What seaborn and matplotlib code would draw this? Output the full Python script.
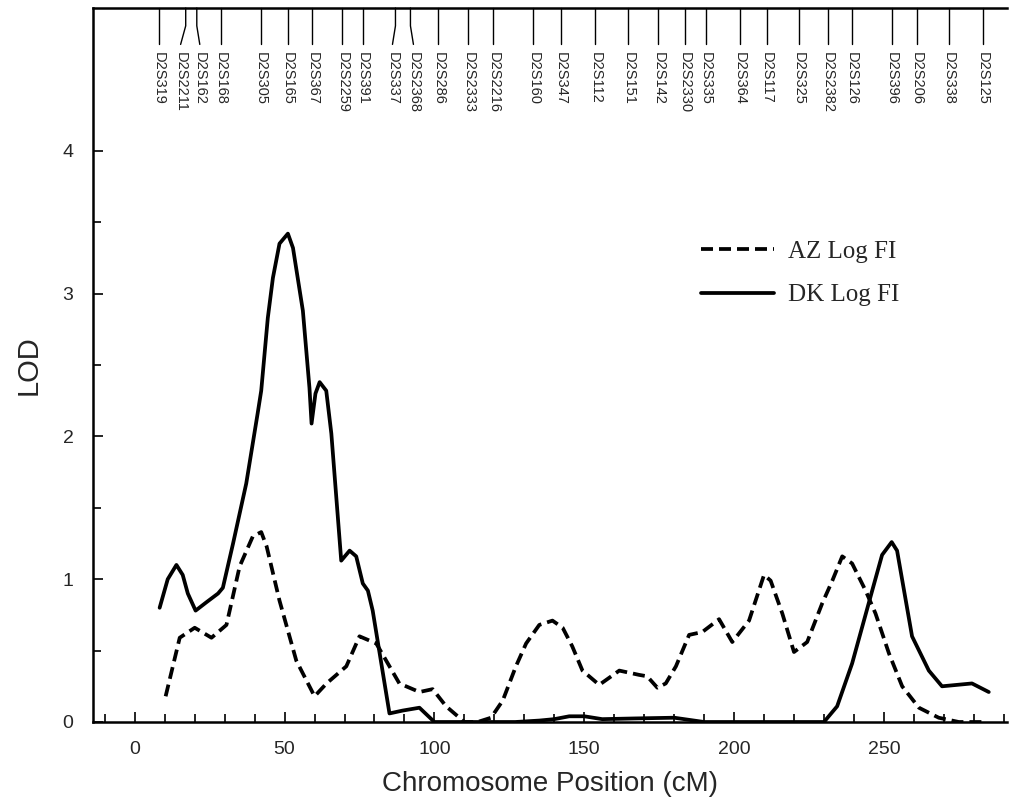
import numpy as np
import pandas as pd
import matplotlib
matplotlib.use("Agg")
import matplotlib.pyplot as plt
import matplotlib.transforms as mtransforms
import seaborn as sns

# LOD curves (position in cM, LOD)
az_pos = [10.3, 15, 20, 25.6, 30.6, 35, 39.4, 42.2, 44, 48.3, 53.9, 60, 64, 70.6, 75,
          80.6, 88.3, 95, 99.4, 103.9, 110, 114.4, 118.9, 122.8, 127.2, 130.6, 135,
          139.4, 142.8, 146, 149.4, 155, 161.7, 168.3, 171, 174.4, 177.2, 180.6, 185,
          189.4, 195, 199.4, 205, 210, 212.2, 216.1, 220, 224.4, 229.4, 232.8, 236.1,
          239.4, 243.9, 247.2, 251.7, 256.1, 261.7, 268.3, 275, 282.8]
az_lod = [0.18, 0.59, 0.66, 0.59, 0.68, 1.09, 1.30, 1.33, 1.23, 0.85, 0.43, 0.18, 0.27,
          0.39, 0.60, 0.55, 0.27, 0.21, 0.23, 0.11, 0.0, 0.0, 0.03, 0.15, 0.39, 0.55,
          0.68, 0.71, 0.66, 0.53, 0.36, 0.26, 0.36, 0.33, 0.32, 0.24, 0.27, 0.39, 0.61,
          0.63, 0.72, 0.56, 0.71, 1.03, 0.99, 0.76, 0.49, 0.56, 0.83, 0.99, 1.16, 1.11,
          0.92, 0.76, 0.48, 0.25, 0.10, 0.03, 0.0, 0.0]

dk_pos = [8.3, 11, 13.9, 16, 17.7, 20.3, 24, 27.8, 29.4, 32.8, 37.2, 41, 42.2, 44.4,
          46.1, 48.3, 51.1, 52.8, 56.1, 58.3, 59.0, 60.3, 61.7, 63.9, 65.6, 68.9, 71.7,
          73.9, 76.1, 77.8, 79.4, 85, 89.4, 95, 100, 127, 135, 140, 145, 150, 156, 167,
          180, 190, 230, 234.4, 239.4, 246.1, 249.4, 252.6, 254.4, 259.4, 265, 269.4,
          279.4, 285]
dk_lod = [0.80, 1.00, 1.10, 1.03, 0.90, 0.78, 0.84, 0.90, 0.94, 1.25, 1.67, 2.16, 2.32,
          2.83, 3.11, 3.35, 3.42, 3.32, 2.88, 2.34, 2.09, 2.30, 2.38, 2.32, 2.02, 1.13,
          1.20, 1.16, 0.97, 0.92, 0.78, 0.06, 0.08, 0.10, 0.0, 0.0, 0.01, 0.02, 0.04,
          0.04, 0.02, 0.025, 0.03, 0.0, 0.0, 0.11, 0.41, 0.92, 1.17, 1.26, 1.20, 0.60,
          0.36, 0.25, 0.27, 0.21]

# marker map along the top
markers = ["D2S319", "D2S2211", "D2S162", "D2S168", "D2S305", "D2S165", "D2S367",
           "D2S2259", "D2S391", "D2S337", "D2S2368", "D2S286", "D2S2333", "D2S2216",
           "D2S160", "D2S347", "D2S112", "D2S151", "D2S142", "D2S2330", "D2S335",
           "D2S364", "D2S117", "D2S325", "D2S2382", "D2S126", "D2S396", "D2S206",
           "D2S338", "D2S125"]
marker_cm = [8.0, 17.0, 20.7, 28.7, 42.0, 51.0, 59.3, 69.3, 76.0, 87.0, 92.0, 101.3,
             111.3, 119.7, 133.0, 142.3, 153.7, 164.7, 174.7, 183.7, 190.7, 202.0,
             211.0, 221.7, 231.3, 239.3, 252.7, 261.0, 271.7, 283.0]
label_nudge = {"D2S2211": -1.7, "D2S162": 1.0, "D2S337": -1.0, "D2S2368": 1.0}

sns.set_theme(style="ticks")
plt.rcParams["font.family"] = ["Liberation Sans", "DejaVu Sans"]

fig = plt.figure(figsize=(10.2, 8), dpi=100)
ax = fig.add_axes([0.091, 0.0975, 0.896, 0.8925])

sns.lineplot(x=az_pos, y=az_lod, ax=ax, color="black", linewidth=2.7,
             linestyle=(0, (3.2, 1.6)), label="AZ Log FI", sort=False)
sns.lineplot(x=dk_pos, y=dk_lod, ax=ax, color="black", linewidth=2.7,
             label="DK Log FI", sort=False)

ax.set_xlim(-14, 291)
ax.set_ylim(0, 5)
ax.set_xticks([0, 50, 100, 150, 200, 250])
ax.set_xticks(np.arange(-10, 291, 10), minor=True)
ax.set_yticks([0, 1, 2, 3, 4])
ax.set_yticks([0.5, 1.5, 2.5, 3.5], minor=True)
ax.tick_params(axis="both", which="both", direction="in", color="black", width=1.2)
ax.tick_params(axis="both", which="major", length=7, labelsize=14, pad=14)
ax.tick_params(axis="both", which="minor", length=6)
ax.tick_params(axis="x", which="both", top=False)
ax.tick_params(axis="y", which="both", right=False)

for side in ["left", "bottom", "top"]:
    ax.spines[side].set_color("black")
    ax.spines[side].set_linewidth(1.8)
ax.spines["right"].set_visible(False)

ax.set_xlabel("Chromosome Position (cM)", fontsize=20, labelpad=9)
ax.set_ylabel("LOD", fontsize=21, labelpad=14)

# marker ticks hanging from the top border
trans = mtransforms.blended_transform_factory(ax.transData, ax.transAxes)
for name, pos in zip(markers, marker_cm):
    lab = pos + label_nudge.get(name, 0.0)
    ax.plot([pos, pos, lab], [1.0, 0.975, 0.949], color="black", linewidth=1.0,
            transform=trans, clip_on=False)
    ax.text(lab, 0.939, name, rotation=-90, ha="center", va="top", fontsize=10.5,
            transform=trans)

leg = ax.legend(loc="upper left", bbox_to_anchor=(0.666, 0.675), frameon=False,
                borderpad=0, borderaxespad=0, handlelength=2.9, handletextpad=0.55,
                labelspacing=0.85, prop={"family": "Liberation Serif", "size": 18})

fig.savefig("out.png", dpi=100)
